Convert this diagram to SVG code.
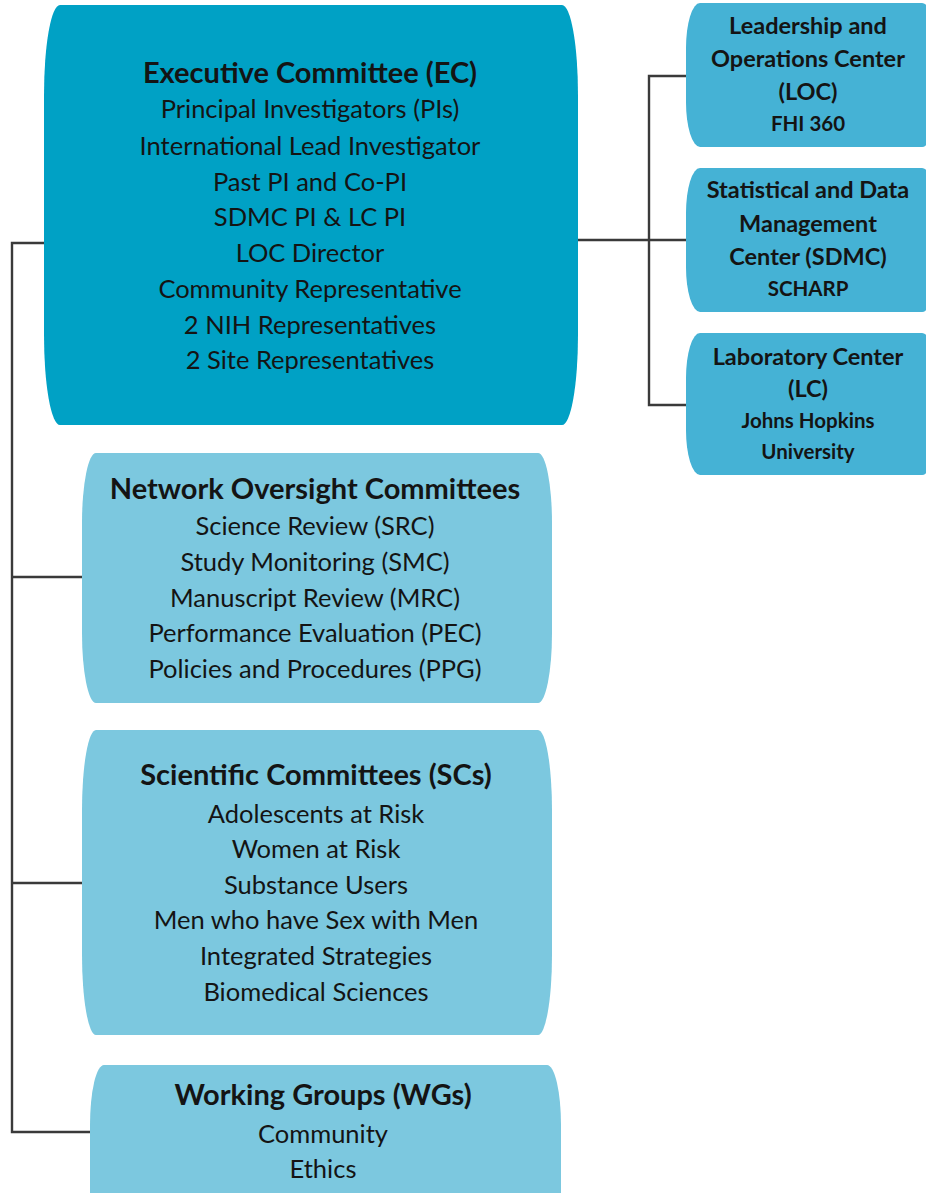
<svg xmlns="http://www.w3.org/2000/svg" width="926" height="1193" viewBox="0 0 926 1193">
<style>
.ec{fill:#00A1C5}
.ctr{fill:#45B2D5}
.sub{fill:#7CC8DF}
text{font-family:Lato,"Open Sans","Liberation Sans",sans-serif;fill:#141414;text-anchor:middle}
.t{font-size:29px;font-weight:bold}
.r{font-size:25.5px}
.rt{font-size:23.5px;font-weight:bold}
.rs{font-size:20.5px;font-weight:bold}
.conn{fill:none;stroke:#3a3a3a;stroke-width:2.4}
</style>
<rect width="926" height="1193" fill="#ffffff"/>
<g id="connectors">
<path class="conn" d="M45,243 H12 V1132 H90"/>
<path class="conn" d="M12,577 H82"/>
<path class="conn" d="M12,883 H82"/>
<path class="conn" d="M578,240 H687"/>
<path class="conn" d="M687,76 H649 V405 H687"/>
</g>
<g id="ec">
<rect class="ec" x="44" y="5" width="534" height="420" rx="16" ry="90"/>
<text class="t" x="310" y="83">Executive Committee (EC)</text>
<text class="r" x="310" y="118">Principal Investigators (PIs)</text>
<text class="r" x="310" y="155">International Lead Investigator</text>
<text class="r" x="310" y="191">Past PI and Co-PI</text>
<text class="r" x="310" y="226">SDMC PI &amp; LC PI</text>
<text class="r" x="310" y="262">LOC Director</text>
<text class="r" x="310" y="298">Community Representative</text>
<text class="r" x="310" y="334">2 NIH Representatives</text>
<text class="r" x="310" y="369">2 Site Representatives</text>
</g>
<g id="loc">
<rect class="ctr" x="686" y="3" width="250" height="144" rx="14" ry="45"/>
<text class="rt" x="808" y="34">Leadership and</text>
<text class="rt" x="808" y="67">Operations Center</text>
<text class="rt" x="808" y="100">(LOC)</text>
<text class="rs" x="808" y="131">FHI 360</text>
</g>
<g id="sdmc">
<rect class="ctr" x="686" y="168" width="250" height="144" rx="14" ry="45"/>
<text class="rt" x="808" y="198">Statistical and Data</text>
<text class="rt" x="808" y="232">Management</text>
<text class="rt" x="808" y="265">Center (SDMC)</text>
<text class="rs" x="808" y="296">SCHARP</text>
</g>
<g id="lc">
<rect class="ctr" x="686" y="333" width="250" height="142" rx="14" ry="45"/>
<text class="rt" x="808" y="365">Laboratory Center</text>
<text class="rt" x="808" y="397">(LC)</text>
<text class="rs" x="808" y="428">Johns Hopkins</text>
<text class="rs" x="808" y="459">University</text>
</g>
<g id="noc">
<rect class="sub" x="82" y="453" width="470" height="250" rx="14" ry="70"/>
<text class="t" x="315" y="499">Network Oversight Committees</text>
<text class="r" x="315" y="535">Science Review (SRC)</text>
<text class="r" x="315" y="571">Study Monitoring (SMC)</text>
<text class="r" x="315" y="607">Manuscript Review (MRC)</text>
<text class="r" x="315" y="642">Performance Evaluation (PEC)</text>
<text class="r" x="315" y="678">Policies and Procedures (PPG)</text>
</g>
<g id="sc">
<rect class="sub" x="82" y="730" width="470" height="305" rx="14" ry="80"/>
<text class="t" x="316" y="785">Scientific Committees (SCs)</text>
<text class="r" x="316" y="823">Adolescents at Risk</text>
<text class="r" x="316" y="858">Women at Risk</text>
<text class="r" x="316" y="894">Substance Users</text>
<text class="r" x="316" y="929">Men who have Sex with Men</text>
<text class="r" x="316" y="965">Integrated Strategies</text>
<text class="r" x="316" y="1001">Biomedical Sciences</text>
</g>
<g id="wg">
<rect class="sub" x="90" y="1065" width="471" height="200" rx="14" ry="60"/>
<text class="t" x="323" y="1105">Working Groups (WGs)</text>
<text class="r" x="323" y="1143">Community</text>
<text class="r" x="323" y="1178">Ethics</text>
</g>
</svg>
